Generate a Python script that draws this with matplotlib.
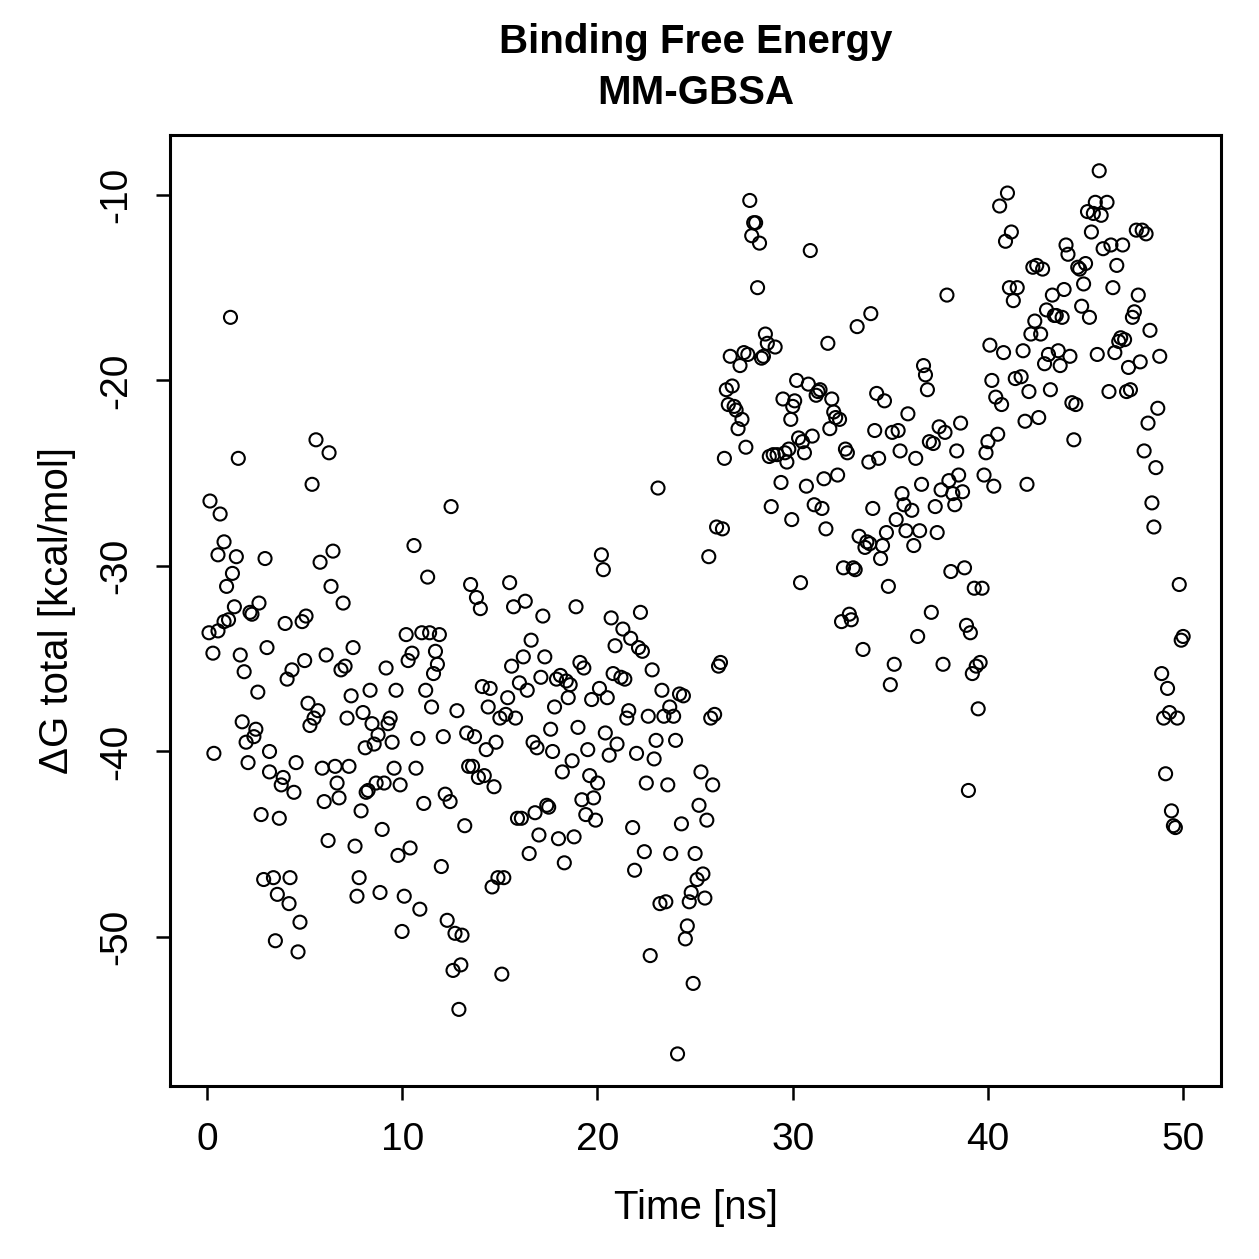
import matplotlib
matplotlib.use("Agg")
from matplotlib import pyplot as plt

plt.rcParams['font.family'] = ['Liberation Sans', 'DejaVu Sans']
plt.rcParams['axes.unicode_minus'] = False

# time [ns] and dG total [kcal/mol]
time = [
    0.15, 0.1, 0.3, 0.35, 0.56, 0.56, 0.67, 0.87, 0.87, 1.0, 1.1, 1.2, 1.3, 1.4, 1.5, 1.6,
    1.7, 1.8, 1.9, 2.0, 2.1, 2.2, 2.3, 2.4, 2.5, 2.6, 2.66, 2.77, 2.9, 2.97, 3.07, 3.2,
    3.2, 3.4, 3.5, 3.6, 3.7, 3.8, 3.9, 4.0, 4.1, 4.2, 4.25, 4.35, 4.45, 4.56, 4.66, 4.76,
    4.87, 5.0, 5.07, 5.17, 5.27, 5.38, 5.48, 5.58, 5.68, 5.79, 5.9, 6.0, 6.1, 6.2, 6.25,
    6.35, 6.45, 6.56, 6.66, 6.76, 6.86, 6.97, 7.07, 7.17, 7.27, 7.38, 7.48, 7.58, 7.68,
    7.79, 7.89, 7.99, 8.1, 8.15, 8.25, 8.35, 8.45, 8.56, 8.66, 8.76, 8.86, 8.97, 9.07,
    9.17, 9.27, 9.38, 9.48, 9.58, 9.68, 9.78, 9.89, 9.99, 10.1, 10.2, 10.3, 10.4, 10.5,
    10.6, 10.7, 10.8, 10.9, 11.0, 11.1, 11.2, 11.3, 11.4, 11.5, 11.6, 11.7, 11.8, 11.9,
    12.0, 12.1, 12.2, 12.3, 12.45, 12.5, 12.6, 12.7, 12.8, 12.9, 13.0, 13.06, 13.2, 13.3,
    13.4, 13.5, 13.6, 13.7, 13.8, 13.9, 14.0, 14.1, 14.2, 14.3, 14.4, 14.5, 14.6, 14.7,
    14.8, 14.9, 15.0, 15.1, 15.2, 15.3, 15.4, 15.5, 15.6, 15.7, 15.8, 15.9, 16.0, 16.1,
    16.2, 16.3, 16.4, 16.5, 16.6, 16.7, 16.8, 16.9, 17.0, 17.1, 17.2, 17.3, 17.4, 17.5,
    17.6, 17.7, 17.8, 17.9, 18.0, 18.1, 18.2, 18.3, 18.4, 18.5, 18.6, 18.7, 18.8, 18.9,
    19.0, 19.1, 19.2, 19.3, 19.4, 19.5, 19.6, 19.7, 19.8, 19.9, 20.0, 20.1, 20.2, 20.3,
    20.4, 20.5, 20.6, 20.7, 20.8, 20.9, 21.0, 21.2, 21.3, 21.4, 21.5, 21.6, 21.7, 21.8,
    21.9, 22.0, 22.1, 22.2, 22.3, 22.4, 22.5, 22.6, 22.7, 22.8, 22.9, 23.0, 23.1, 23.2,
    23.3, 23.4, 23.5, 23.6, 23.7, 23.75, 23.9, 24.0, 24.1, 24.2, 24.3, 24.4, 24.5, 24.6,
    24.7, 24.8, 24.9, 25.0, 25.1, 25.2, 25.3, 25.4, 25.5, 25.6, 25.7, 25.8, 25.9, 26.0,
    26.1, 26.2, 26.3, 26.4, 26.5, 26.6, 26.7, 26.8, 26.9, 27.0, 27.1, 27.2, 27.3, 27.4,
    27.5, 27.6, 27.7, 27.8, 27.9, 28.0, 28.1, 28.2, 28.3, 28.4, 28.5, 28.6, 28.7, 28.8,
    28.9, 29.0, 29.1, 29.2, 29.4, 29.5, 29.6, 29.7, 29.8, 29.9, 29.95, 30.0, 30.1, 30.2,
    30.3, 30.4, 30.5, 30.6, 30.7, 30.8, 30.9, 31.0, 31.1, 31.2, 31.3, 31.4, 31.5, 31.6,
    31.7, 31.8, 31.9, 32.0, 32.1, 32.2, 32.3, 32.4, 32.5, 32.6, 32.7, 32.8, 32.9, 33.0,
    33.1, 33.2, 33.3, 33.4, 33.6, 33.7, 33.8, 33.9, 33.95, 34.0, 34.1, 34.2, 34.3, 34.4,
    34.5, 34.6, 34.7, 34.8, 34.9, 35.0, 35.1, 35.2, 35.3, 35.4, 35.5, 35.6, 35.7, 35.8,
    35.9, 36.1, 36.2, 36.3, 36.4, 36.5, 36.6, 36.7, 36.8, 36.9, 37.0, 37.1, 37.2, 37.3,
    37.4, 37.5, 37.6, 37.7, 37.8, 37.9, 38.0, 38.1, 38.2, 38.3, 38.4, 38.5, 38.6, 38.7,
    38.8, 38.9, 39.0, 39.1, 39.2, 39.3, 39.4, 39.5, 39.6, 39.7, 39.8, 39.9, 40.0, 40.1,
    40.2, 40.3, 40.4, 40.5, 40.6, 40.7, 40.8, 40.9, 41.0, 41.1, 41.2, 41.3, 41.4, 41.5,
    41.7, 41.8, 41.9, 42.0, 42.1, 42.2, 42.3, 42.4, 42.5, 42.6, 42.7, 42.8, 42.9, 43.0,
    43.1, 43.2, 43.3, 43.4, 43.5, 43.6, 43.7, 43.8, 43.9, 44.0, 44.1, 44.2, 44.3, 44.4,
    44.5, 44.6, 44.7, 44.8, 44.9, 45.0, 45.1, 45.2, 45.3, 45.4, 45.5, 45.6, 45.7, 45.8,
    45.9, 46.1, 46.2, 46.3, 46.4, 46.5, 46.6, 46.7, 46.8, 46.9, 47.0, 47.1, 47.2, 47.3,
    47.4, 47.5, 47.6, 47.7, 47.8, 47.9, 48.0, 48.1, 48.2, 48.3, 48.4, 48.5, 48.6, 48.7,
    48.8, 48.9, 49.0, 49.1, 49.2, 49.3, 49.4, 49.5, 49.6, 49.7, 49.8, 49.9, 50.0,
]
dg = [
    -26.5, -33.6, -34.7, -40.1, -29.4, -33.5, -27.2, -28.7, -33.0, -31.1, -32.9, -16.6,
    -30.4, -32.2, -29.5, -24.2, -34.8, -38.4, -35.7, -39.5, -40.6, -32.5, -32.6, -39.2,
    -38.8, -36.8, -32.0, -43.4, -46.9, -29.6, -34.4, -40.0, -41.1, -46.8, -50.2, -47.7,
    -43.6, -41.8, -41.4, -33.1, -36.1, -48.2, -46.8, -35.6, -42.2, -40.6, -50.8, -49.2,
    -33.0, -35.1, -32.7, -37.4, -38.6, -25.6, -38.2, -23.2, -37.8, -29.8, -40.9, -42.7,
    -34.8, -44.8, -23.9, -31.1, -29.2, -40.8, -41.7, -42.5, -35.6, -32.0, -35.4, -38.2,
    -40.8, -37.0, -34.4, -45.1, -47.8, -46.8, -43.2, -37.9, -39.8, -42.2, -42.1, -36.7,
    -38.5, -39.6, -41.7, -39.1, -47.6, -44.2, -41.7, -35.5, -38.5, -38.2, -39.5, -40.9,
    -36.7, -45.6, -41.8, -49.7, -47.8, -33.7, -35.1, -45.2, -34.7, -28.9, -40.9, -39.3,
    -48.5, -33.6, -42.8, -36.7, -30.6, -33.6, -37.6, -35.8, -34.6, -35.3, -33.7, -46.2,
    -39.2, -42.3, -49.1, -42.7, -26.8, -51.8, -49.8, -37.8, -53.9, -51.5, -49.9, -44.0,
    -39.0, -40.8, -31.0, -40.8, -39.2, -31.7, -41.4, -32.3, -36.5, -41.3, -39.9, -37.6,
    -36.6, -47.3, -41.9, -39.5, -46.8, -38.2, -52.0, -46.8, -38.0, -37.1, -30.9, -35.4,
    -32.2, -38.2, -43.6, -36.3, -43.6, -34.9, -31.9, -36.7, -45.5, -34.0, -39.5, -43.3,
    -39.8, -44.5, -36.0, -32.7, -34.9, -42.9, -43.0, -38.8, -40.0, -37.6, -36.1, -44.7,
    -35.9, -41.1, -46.0, -36.2, -37.1, -36.4, -40.5, -44.6, -32.2, -38.7, -35.2, -42.6,
    -35.5, -43.4, -39.9, -41.3, -37.2, -42.5, -43.7, -41.7, -36.6, -29.4, -30.2, -39.0,
    -37.1, -40.2, -32.8, -35.8, -34.3, -39.6, -36.0, -33.4, -36.1, -38.2, -37.8, -33.9,
    -44.1, -46.4, -40.1, -34.4, -32.5, -34.6, -45.4, -41.7, -38.1, -51.0, -35.6, -40.4,
    -39.4, -25.8, -48.2, -36.7, -38.1, -48.1, -41.8, -37.6, -45.5, -38.1, -39.4, -56.3,
    -36.9, -43.9, -37.0, -50.1, -49.4, -48.1, -47.6, -52.5, -45.5, -46.9, -42.9, -41.1,
    -46.6, -47.9, -43.7, -29.5, -38.2, -41.8, -38.0, -27.9, -35.4, -35.2, -28.0, -24.2,
    -20.5, -21.3, -18.7, -20.3, -21.4, -21.6, -22.6, -19.2, -22.1, -18.5, -23.6, -18.6,
    -10.3, -12.2, -11.5, -11.5, -15.0, -12.6, -18.8, -18.7, -17.5, -18.0, -24.1, -26.8,
    -24.0, -18.2, -24.0, -25.5, -21.0, -23.9, -24.4, -23.7, -22.1, -27.5, -21.4, -21.1,
    -20.0, -23.1, -30.9, -23.3, -23.9, -25.7, -20.2, -13.0, -23.0, -26.7, -20.8, -20.6,
    -20.5, -26.9, -25.3, -28.0, -18.0, -22.6, -21.0, -21.7, -22.0, -25.1, -22.1, -33.0,
    -30.1, -23.7, -23.9, -32.6, -32.9, -30.1, -30.2, -17.1, -28.4, -34.5, -29.0, -28.7,
    -24.4, -28.8, -16.4, -26.9, -22.7, -20.7, -24.2, -29.6, -28.9, -21.1, -28.2, -31.1,
    -36.4, -22.8, -35.3, -27.5, -22.7, -23.8, -26.1, -26.7, -28.1, -21.8, -27.0, -28.9,
    -24.2, -33.8, -28.1, -25.6, -19.2, -19.7, -20.5, -23.3, -32.5, -23.4, -26.8, -28.2,
    -22.5, -25.9, -35.3, -22.8, -15.4, -25.4, -30.3, -26.1, -26.7, -23.8, -25.1, -22.3,
    -26.0, -30.1, -33.2, -42.1, -33.6, -35.8, -31.2, -35.4, -37.7, -35.2, -31.2, -25.1,
    -23.9, -23.3, -18.1, -20.0, -25.7, -20.9, -22.9, -10.6, -21.3, -18.5, -12.5, -9.9,
    -15.0, -12.0, -15.7, -19.9, -15.0, -19.8, -18.4, -22.2, -25.6, -20.6, -17.5, -13.9,
    -16.8, -13.8, -22.0, -17.5, -14.0, -19.1, -16.2, -18.6, -20.5, -15.4, -16.5, -16.5,
    -18.4, -19.2, -16.6, -15.1, -12.7, -13.2, -18.7, -21.2, -23.2, -21.3, -13.9, -14.0,
    -16.0, -14.8, -13.7, -10.9, -16.6, -12.0, -11.0, -10.4, -18.6, -8.7, -11.1, -12.9,
    -10.4, -20.6, -12.7, -15.0, -18.5, -13.8, -17.9, -17.7, -12.7, -17.8, -20.6, -19.3,
    -20.5, -16.6, -16.3, -11.9, -15.4, -19.0, -11.9, -23.8, -12.1, -22.3, -17.3, -26.6,
    -27.9, -24.7, -21.5, -18.7, -35.8, -38.2, -41.2, -36.6, -37.9, -43.2, -44.0, -44.1,
    -38.2, -31.0, -34.0, -33.8,
]

fig = plt.figure(figsize=(6.295, 6.295), dpi=200)
ax = fig.add_axes([0.135, 0.1374, 0.835, 0.7554])

ax.scatter(time, dg, s=22, facecolors='none', edgecolors='black', linewidths=0.75)

ax.set_xlim(-1.9, 51.95)
ax.set_ylim(-58.03, -6.77)
ax.set_xticks([0, 10, 20, 30, 40, 50])
ax.set_yticks([-50, -40, -30, -20, -10])
ax.tick_params(direction='out', length=5, width=0.9, labelsize=14, pad=8)
for lab in ax.get_yticklabels():
    lab.set_rotation(90)
    lab.set_va('center')
for sp in ax.spines.values():
    sp.set_linewidth(1.1)

ax.set_xlabel('Time [ns]', fontsize=14.5, labelpad=11)
ax.set_ylabel('ΔG total [kcal/mol]', fontsize=14.5, labelpad=8)
ax.set_title('Binding Free Energy\nMM-GBSA', fontsize=14.5, fontweight='bold', pad=11,
             linespacing=1.45)

fig.savefig('out.png', dpi=200)
